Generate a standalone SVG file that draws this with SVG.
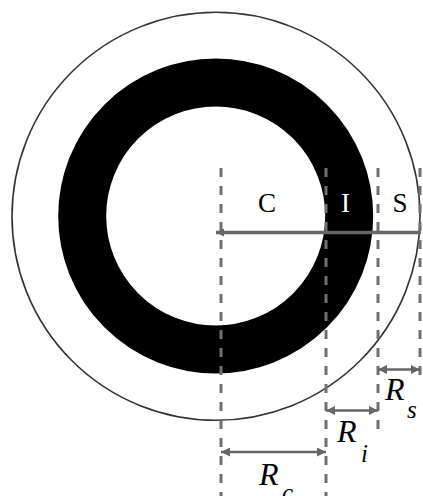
<svg xmlns="http://www.w3.org/2000/svg" width="423" height="496" viewBox="0 0 423 496">
<defs>
<style>
.dash{stroke:#707070;stroke-width:3;stroke-dasharray:9 9;fill:none}
.dim{stroke:#666;stroke-width:2.5;fill:none;marker-start:url(#ah);marker-end:url(#ah)}
.lbl{font-family:"Liberation Serif","Times New Roman",serif;font-size:27px;text-anchor:middle}
.r{font-family:"Liberation Serif","Times New Roman",serif;font-style:italic;font-size:32px}
.sub{font-family:"Liberation Serif","Times New Roman",serif;font-style:italic;font-size:25px}
</style>
<marker id="ah" markerUnits="userSpaceOnUse" viewBox="0 0 9 9" refX="9" refY="4.5" markerWidth="9" markerHeight="9" orient="auto-start-reverse">
<path d="M0,0 L9,4.5 L0,9 z" fill="#666"/>
</marker>
<marker id="ah2" markerUnits="userSpaceOnUse" viewBox="0 0 8 8" refX="8" refY="4" markerWidth="8" markerHeight="8" orient="auto-start-reverse">
<path d="M0,0 L8,4 L0,8 z" fill="#666"/>
</marker>
</defs>
<rect width="423" height="496" fill="#fff"/>
<g id="outer-shell">
<circle cx="216" cy="216.3" r="204" fill="none" stroke="#333" stroke-width="1.6"/>
</g>
<g id="interlayer-ring">
<circle cx="215.7" cy="216" r="133.5" fill="none" stroke="#000" stroke-width="48"/>
</g>
<g id="connectors">
<line class="dash" x1="221" y1="168" x2="221" y2="496"/>
<line class="dash" x1="326" y1="168" x2="326" y2="496"/>
<line class="dash" x1="378" y1="168" x2="378" y2="432"/>
<line class="dash" x1="420" y1="168" x2="420" y2="378"/>
<line x1="216" y1="232.5" x2="421" y2="232.5" stroke="#666" stroke-width="3.5" marker-start="url(#ah2)"/>
<line class="dim" x1="378" y1="369.5" x2="420" y2="369.5"/>
<line class="dim" x1="326" y1="410.5" x2="378" y2="410.5"/>
<line class="dim" x1="221" y1="452" x2="326" y2="452"/>
</g>
<g id="labels">
<text class="lbl" x="267" y="212">C</text>
<text class="lbl" x="345.5" y="212" fill="#fff">I</text>
<text class="lbl" x="400" y="212">S</text>
</g>
<g id="dim-labels">
<text class="r" x="385" y="400">R</text><text class="sub" x="407" y="418">s</text>
<text class="r" x="337" y="442">R</text><text class="sub" x="361" y="462">i</text>
<text class="r" x="259" y="485">R</text><text class="sub" x="282" y="501">c</text>
</g>
</svg>
